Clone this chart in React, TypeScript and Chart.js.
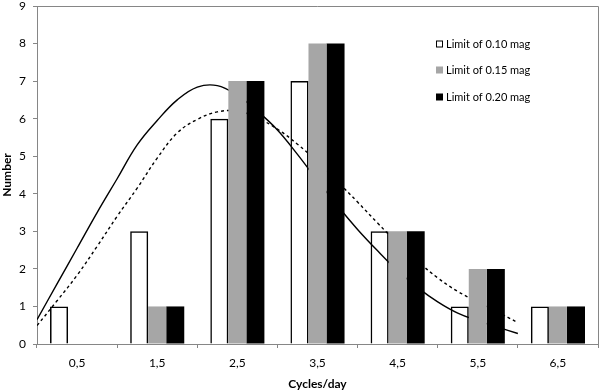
import React, { useEffect, useRef } from "react";
import { Chart, registerables } from "chart.js";

Chart.register(...registerables);

// Category centres (cycles/day) and their printed labels
const cycles = [0.5, 1.5, 2.5, 3.5, 4.5, 5.5, 6.5];
const categories = ["0,5", "1,5", "2,5", "3,5", "4,5", "5,5", "6,5"];
const limit010 = [1, 3, 6, 7, 3, 1, 1];
const limit015 = [0, 1, 7, 8, 3, 2, 1];
const limit020 = [0, 1, 7, 8, 3, 2, 1];
const seriesNames = ["Limit of 0.10 mag", "Limit of 0.15 mag", "Limit of 0.20 mag"];

const curveX = [0, 0.25, 0.5, 0.75, 1, 1.25, 1.5, 1.75, 2, 2.25, 2.5, 2.75, 3, 3.25, 3.5, 3.75, 4, 4.25, 4.5, 4.75, 5, 5.25, 5.5, 5.75, 6];
const solidCurve = [0.65, 1.6, 2.55, 3.5, 4.4, 5.3, 5.95, 6.5, 6.84, 6.88, 6.62, 6.2, 5.7, 5.05, 4.35, 3.68, 3.05, 2.48, 1.95, 1.5, 1.12, 0.82, 0.62, 0.45, 0.28];
const dashedCurve = [0.49, 1.15, 1.83, 2.6, 3.4, 4.15, 4.95, 5.62, 5.98, 6.18, 6.2, 6.02, 5.72, 5.32, 4.85, 4.32, 3.78, 3.22, 2.68, 2.2, 1.76, 1.4, 1.12, 0.85, 0.57];

const xMin = 0;
const xMax = 7;
const yMin = 0;
const yMax = 9;
const yStep = 1;

const FONT = "Lato, 'Open Sans', sans-serif";
const AXIS_COLOR = "#868686";
const GRAY = "#a6a6a6";

const framePlugin = {
  id: "frame",
  afterDraw(chart: any) {
    const { ctx, chartArea } = chart;
    ctx.save();
    ctx.strokeStyle = AXIS_COLOR;
    ctx.lineWidth = 1;
    ctx.beginPath();
    ctx.moveTo(chartArea.left, chartArea.top + 0.5);
    ctx.lineTo(chartArea.right + 0.5, chartArea.top + 0.5);
    ctx.lineTo(chartArea.right + 0.5, chartArea.bottom);
    ctx.stroke();
    ctx.restore();
  },
};

const legendPlugin = {
  id: "customLegend",
  afterDraw(chart: any) {
    const { ctx } = chart;
    const fills = ["#ffffff", GRAY, "#000000"];
    const rows = [44, 70, 97];
    ctx.save();
    ctx.font = `11px ${FONT}`;
    ctx.textBaseline = "middle";
    ctx.textAlign = "left";
    seriesNames.forEach((name, i) => {
      const y = rows[i];
      ctx.fillStyle = fills[i];
      ctx.fillRect(436, y - 3.5, 7, 7);
      if (i === 0) {
        ctx.strokeStyle = "#000";
        ctx.lineWidth = 1;
        ctx.strokeRect(436.5, y - 3, 6, 6);
      }
      ctx.fillStyle = "#000";
      ctx.fillText(name, 446, y);
    });
    ctx.restore();
  },
};

export default function App() {
  const ref = useRef<HTMLCanvasElement | null>(null);

  useEffect(() => {
    document.body.style.margin = "0";
    if (!ref.current) return;
    const toPoints = (vals: number[]) => vals.map((y, i) => ({ x: cycles[i], y }));
    const chart = new Chart(ref.current, {
      type: "bar",
      data: {
        datasets: [
          {
            label: seriesNames[0],
            data: toPoints(limit010),
            backgroundColor: "rgba(255,255,255,0)",
            borderColor: "#000",
            borderWidth: 1.5,
            order: 1,
          },
          {
            label: seriesNames[1],
            data: toPoints(limit015),
            backgroundColor: GRAY,
            borderWidth: 0,
            order: 1,
          },
          {
            label: seriesNames[2],
            data: toPoints(limit020),
            backgroundColor: "#000",
            borderWidth: 0,
            order: 1,
          },
          {
            type: "line",
            label: "fit solid",
            data: curveX.map((x, i) => ({ x, y: solidCurve[i] })),
            borderColor: "#000",
            borderWidth: 1.4,
            pointRadius: 0,
            fill: false,
            tension: 0.4,
            order: 10,
          } as any,
          {
            type: "line",
            label: "fit dashed",
            data: curveX.map((x, i) => ({ x, y: dashedCurve[i] })),
            borderColor: "#000",
            borderWidth: 1.4,
            borderDash: [3, 3],
            pointRadius: 0,
            fill: false,
            tension: 0.4,
            order: 10,
          } as any,
        ],
      },
      options: {
        animation: false,
        responsive: true,
        maintainAspectRatio: false,
        layout: { padding: { left: 0, right: 2, top: 6, bottom: 0 } },
        datasets: {
          bar: { barPercentage: 1, categoryPercentage: 0.675 },
        },
        plugins: {
          legend: { display: false },
          tooltip: { enabled: false },
        },
        scales: {
          x: {
            type: "linear",
            min: xMin,
            max: xMax,
            offset: false,
            afterBuildTicks: (s: any) => {
              s.ticks = cycles.map((v) => ({ value: v }));
            },
            grid: {
              offset: true,
              drawOnChartArea: false,
              drawTicks: true,
              tickLength: 4,
              color: AXIS_COLOR,
            },
            border: { display: true, color: AXIS_COLOR },
            ticks: {
              autoSkip: false,
              color: "#000",
              font: { family: FONT, size: 12 },
              padding: 8,
              maxRotation: 0,
              callback: (_v: any, i: number) => categories[i],
            },
            title: {
              display: true,
              text: "Cycles/day",
              color: "#000",
              font: { family: FONT, size: 12, weight: "bold" },
              padding: { top: 0, bottom: -0.8 },
            },
            afterFit: (s: any) => {
              s.height = 47;
              s.paddingLeft = 0;
              s.paddingRight = 0;
            },
          },
          y: {
            min: yMin,
            max: yMax,
            ticks: { stepSize: yStep, color: "#000", font: { family: FONT, size: 12 }, padding: 7 },
            grid: {
              drawOnChartArea: false,
              drawTicks: true,
              tickLength: 4,
              color: AXIS_COLOR,
            },
            border: { display: true, color: AXIS_COLOR },
            title: {
              display: true,
              text: "Number",
              color: "#000",
              font: { family: FONT, size: 12, weight: "bold" },
              padding: { top: 0, bottom: 0 },
            },
            afterFit: (s: any) => {
              s.width = 37;
              s.paddingTop = 0;
              s.paddingBottom = 0;
            },
          },
        },
      },
      plugins: [framePlugin, legendPlugin],
    } as any);
    return () => chart.destroy();
  }, []);

  return (
    <div style={{ width: 600, height: 391, position: "relative" }}>
      <canvas ref={ref} />
    </div>
  );
}
